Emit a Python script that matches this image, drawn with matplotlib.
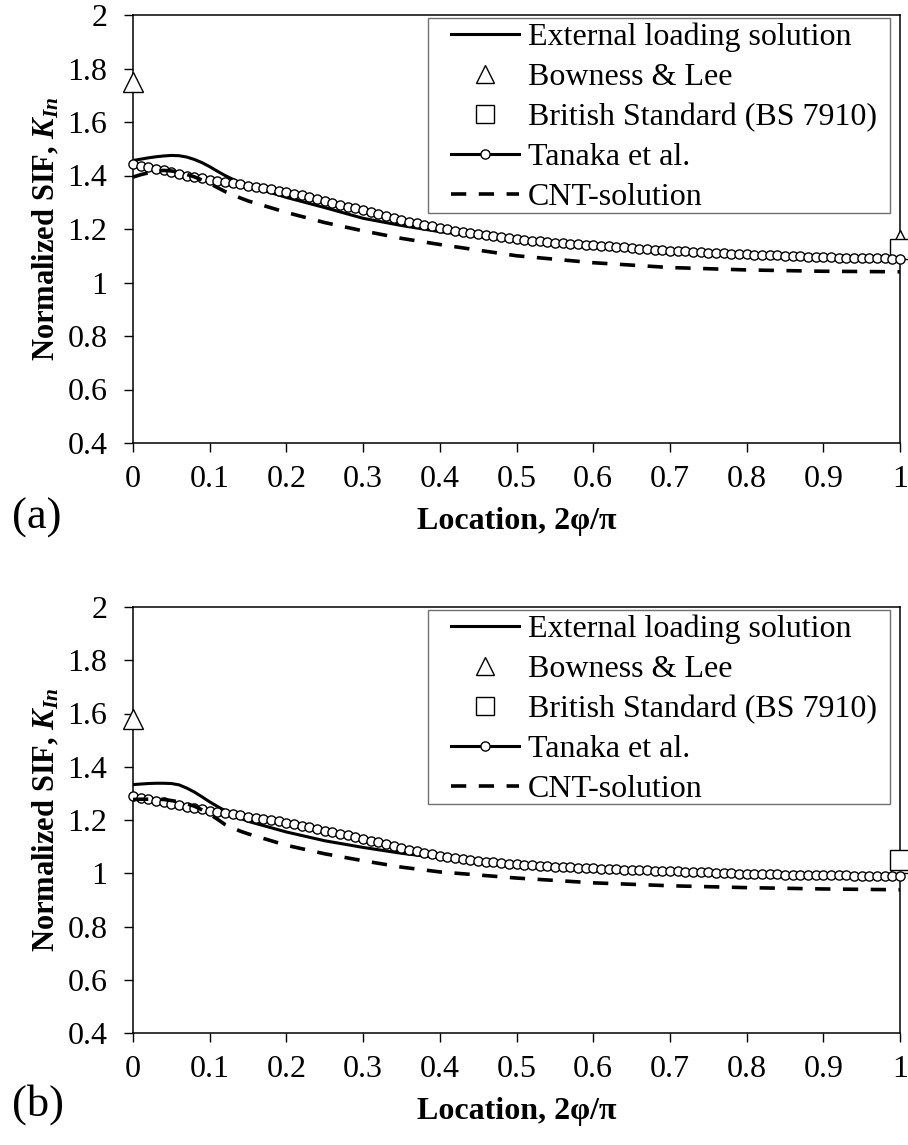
import numpy as np
import matplotlib
matplotlib.use('Agg')
import matplotlib.pyplot as plt
from matplotlib.lines import Line2D
from matplotlib.patches import Rectangle

plt.rcParams['font.family'] = ['Liberation Serif', 'DejaVu Serif']
plt.rcParams['mathtext.fontset'] = 'custom'
plt.rcParams['mathtext.rm'] = 'Liberation Serif'
plt.rcParams['mathtext.it'] = 'Liberation Serif:italic'
plt.rcParams['mathtext.bf'] = 'Liberation Serif:bold'
plt.rcParams['mathtext.bfit'] = 'Liberation Serif:italic:bold'
plt.rcParams['lines.scale_dashes'] = False

# x positions for the two continuous solutions
sol_x = [0, 0.01, 0.02, 0.03, 0.04, 0.05, 0.06, 0.07, 0.08, 0.09, 0.1, 0.11, 0.12, 0.13, 0.14, 0.15,
         0.2, 0.25, 0.3, 0.35, 0.4, 0.5, 0.6, 0.7, 0.8, 0.9, 1.0]

# ---- data: panel (a) ----
ext_a = [1.456, 1.461, 1.466, 1.470, 1.473, 1.475, 1.474, 1.469, 1.460, 1.448, 1.433, 1.416, 1.400,
         1.386, 1.373, 1.362, 1.318, 1.280, 1.240, 1.213, 1.190, 1.155, 1.132, 1.117, 1.105, 1.098,
         1.095]
cnt_a = [1.394, 1.403, 1.410, 1.416, 1.419, 1.417, 1.412, 1.404, 1.395, 1.383, 1.370, 1.355, 1.340,
         1.328, 1.316, 1.305, 1.262, 1.224, 1.193, 1.165, 1.142, 1.100, 1.074, 1.056, 1.047, 1.042,
         1.040]

tan_x = np.round(np.arange(0, 1.001, 0.01), 2)
tan_a = [1.444, 1.437, 1.431, 1.425, 1.419, 1.413, 1.406, 1.400, 1.395, 1.390,
         1.385, 1.380, 1.376, 1.371, 1.367, 1.362, 1.358, 1.353, 1.348, 1.343,
         1.338, 1.332, 1.326, 1.319, 1.312, 1.305, 1.298, 1.291, 1.284, 1.277,
         1.270, 1.263, 1.256, 1.249, 1.242, 1.235, 1.228, 1.222, 1.216, 1.210,
         1.204, 1.199, 1.194, 1.189, 1.185, 1.181, 1.177, 1.173, 1.169, 1.166,
         1.163, 1.160, 1.157, 1.154, 1.152, 1.149, 1.147, 1.145, 1.143, 1.141,
         1.139, 1.137, 1.135, 1.133, 1.131, 1.129, 1.127, 1.125, 1.123, 1.121,
         1.119, 1.118, 1.116, 1.115, 1.113, 1.112, 1.110, 1.109, 1.108, 1.106,
         1.105, 1.104, 1.103, 1.102, 1.101, 1.100, 1.099, 1.098, 1.097, 1.096,
         1.095, 1.094, 1.093, 1.093, 1.092, 1.091, 1.091, 1.090, 1.090, 1.089, 1.089]

bow_x = [0, 1]
bow_a = [1.75, 1.16]
bs_x = [1]
bs_a = [1.126]

# ---- data: panel (b) ----
ext_b = [1.333, 1.335, 1.337, 1.338, 1.338, 1.337, 1.332, 1.320, 1.305, 1.287, 1.268, 1.251, 1.235,
         1.221, 1.207, 1.195, 1.155, 1.122, 1.097, 1.075, 1.058, 1.030, 1.012, 1.002, 0.995, 0.990,
         0.988]
cnt_b = [1.277, 1.278, 1.278, 1.278, 1.277, 1.273, 1.268, 1.261, 1.252, 1.238, 1.222, 1.203, 1.183,
         1.170, 1.158, 1.148, 1.105, 1.073, 1.047, 1.023, 1.005, 0.982, 0.964, 0.953, 0.946, 0.941,
         0.938]
tan_b = [1.289, 1.283, 1.278, 1.272, 1.267, 1.261, 1.256, 1.250, 1.245, 1.240,
         1.235, 1.230, 1.225, 1.221, 1.217, 1.213, 1.208, 1.204, 1.199, 1.195,
         1.190, 1.184, 1.178, 1.172, 1.166, 1.160, 1.154, 1.148, 1.142, 1.136,
         1.130, 1.123, 1.116, 1.109, 1.102, 1.095, 1.088, 1.082, 1.076, 1.071,
         1.066, 1.062, 1.058, 1.054, 1.050, 1.047, 1.044, 1.041, 1.038, 1.036,
         1.034, 1.032, 1.030, 1.028, 1.026, 1.025, 1.023, 1.022, 1.020, 1.019,
         1.018, 1.017, 1.016, 1.015, 1.014, 1.013, 1.012, 1.011, 1.010, 1.009,
         1.008, 1.007, 1.006, 1.005, 1.004, 1.003, 1.002, 1.001, 1.000, 0.999,
         0.998, 0.997, 0.997, 0.996, 0.996, 0.995, 0.995, 0.994, 0.994, 0.993,
         0.993, 0.992, 0.992, 0.992, 0.991, 0.991, 0.991, 0.990, 0.990, 0.990, 0.990]
bow_b = [1.58, 1.04]
bs_b = [1.049]

labels = ['External loading solution', 'Bowness & Lee', 'British Standard (BS 7910)',
          'Tanaka et al.', 'CNT-solution']

W, H = 908, 1145
fig = plt.figure(figsize=(W / 100, H / 100), dpi=100)


def panel(rect, ext, bow, bs, tan, cnt, tag, tag_y):
    ax = fig.add_axes(rect)
    h1, = ax.plot(sol_x, ext, color='black', lw=2.2, zorder=3)
    h2, = ax.plot(bow_x, bow, ls='none', marker='^', ms=15, mfc='white', mec='black', mew=1.0,
                  clip_on=False, zorder=4)
    h3, = ax.plot(bs_x, bs, ls='none', marker='s', ms=15, mfc='white', mec='black', mew=1.0,
                  clip_on=False, zorder=5)
    h4, = ax.plot(tan_x, tan, color='black', lw=2.2, marker='o', ms=6.6, mfc='white', mec='black',
                  mew=1.0, clip_on=False, zorder=6)
    h5, = ax.plot(sol_x, cnt, color='black', lw=2.6, dashes=(11, 9), zorder=7)

    ax.set_xlim(0, 1)
    ax.set_ylim(0.4, 2)
    ax.set_xticks(np.arange(0, 1.01, 0.1))
    ax.set_xticklabels(['0', '0.1', '0.2', '0.3', '0.4', '0.5', '0.6', '0.7', '0.8', '0.9', '1'])
    ax.set_yticks(np.arange(0.4, 2.01, 0.2))
    ax.set_yticklabels(['0.4', '0.6', '0.8', '1', '1.2', '1.4', '1.6', '1.8', '2'])
    ax.tick_params(direction='out', length=6.5, width=1.0, labelsize=23)
    ax.tick_params(axis='x', pad=9)
    ax.tick_params(axis='y', pad=12)
    for s in ax.spines.values():
        s.set_linewidth(1.1)
    ax.set_xlabel('Location, 2φ/π', fontsize=23, fontweight='bold', labelpad=10)
    ax.set_ylabel(r'Normalized SIF, $\mathbfit{K}_{\mathbfit{In}}$', fontsize=22,
                  fontweight='bold', labelpad=4)

    # legend: entries without frame, gray box drawn separately
    p2 = Line2D([], [], ls='none', marker='^', ms=13, mfc='white', mec='black', mew=1.0)
    p3 = Line2D([], [], ls='none', marker='s', ms=13, mfc='white', mec='black', mew=1.0)
    ax.legend([h1, p2, p3, h4, h5], labels, loc='upper left',
              bbox_to_anchor=(0.409, 0.993), fontsize=23, frameon=False,
              handlelength=2.1, handletextpad=0.3, labelspacing=0.33, borderpad=0.15,
              borderaxespad=0, numpoints=1)
    ax.add_patch(Rectangle((0.3846, 0.538), 0.987 - 0.3846, 0.993 - 0.538, transform=ax.transAxes,
                           fill=False, edgecolor='#707070', lw=1.0, zorder=8))
    fig.text(12 / W, 1 - tag_y / H, tag, fontsize=32, ha='left', va='center')
    return ax


panel([133 / W, 1 - 443 / H, 767 / W, 428 / H], ext_a, bow_a, bs_a, tan_a, cnt_a, '(a)', 518)
panel([133 / W, 1 - 1033 / H, 767 / W, 426 / H], ext_b, bow_b, bs_b, tan_b, cnt_b, '(b)', 1105)

fig.savefig('out.png', dpi=100)
